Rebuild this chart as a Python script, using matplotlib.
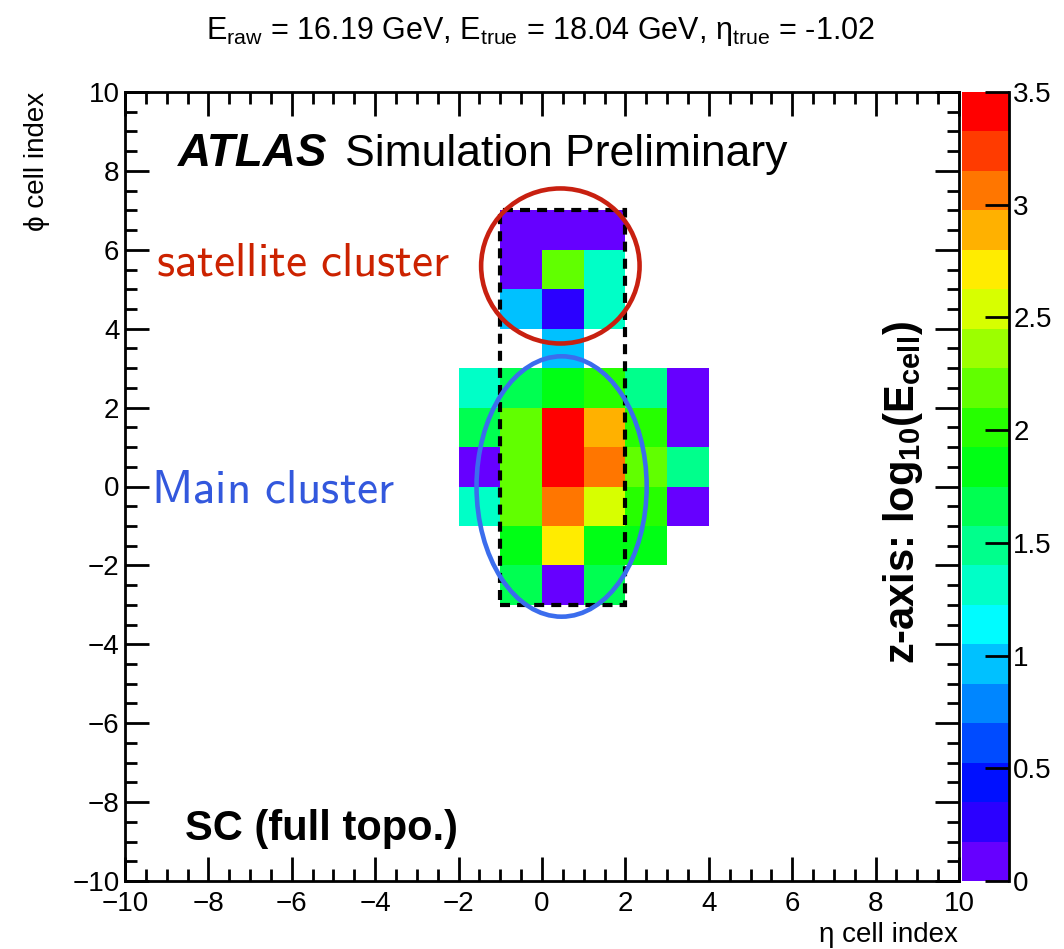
import numpy as np
import matplotlib
matplotlib.use('Agg')
import matplotlib.pyplot as plt
from matplotlib.colors import ListedColormap, BoundaryNorm, hsv_to_rgb
from matplotlib.patches import Ellipse, Rectangle
from matplotlib.ticker import MultipleLocator, FuncFormatter

plt.rcParams['font.family'] = ['Liberation Sans', 'DejaVu Sans']
plt.rcParams['mathtext.fontset'] = 'custom'
plt.rcParams['mathtext.rm'] = 'Liberation Sans'
plt.rcParams['mathtext.it'] = 'Liberation Sans:italic'
plt.rcParams['mathtext.bf'] = 'Liberation Sans:bold'

# ячейки: нижняя граница по eta, по phi и log10(E)
eta_idx = [-1, 0, 1,
           -1, 0, 1,
           -1, 0, 1,
           0,
           -2, -1, 0, 1, 2, 3,
           -2, -1, 0, 1, 2, 3,
           -2, -1, 0, 1, 2, 3,
           -2, -1, 0, 1, 2, 3,
           -1, 0, 1, 2,
           -1, 0, 1]
phi_idx = [6, 6, 6,
           5, 5, 5,
           4, 4, 4,
           3,
           2, 2, 2, 2, 2, 2,
           1, 1, 1, 1, 1, 1,
           0, 0, 0, 0, 0, 0,
           -1, -1, -1, -1, -1, -1,
           -2, -2, -2, -2,
           -3, -3, -3]
log_e = [0.10, 0.10, 0.10,
         0.10, 2.19, 1.31,
         0.96, 0.26, 1.31,
         0.96,
         1.31, 1.66, 1.84, 2.01, 1.49, 0.10,
         1.66, 2.19, 3.41, 2.89, 2.01, 0.10,
         0.10, 2.19, 3.41, 3.06, 2.19, 1.49,
         1.31, 2.19, 3.06, 2.54, 2.01, 0.10,
         1.84, 2.71, 1.84, 1.84,
         1.66, 0.10, 1.66]

z_ticks = [0, 0.5, 1, 1.5, 2, 2.5, 3, 3.5]
title = (r'E$_{\mathrm{raw}}$ = 16.19 GeV, E$_{\mathrm{true}}$ = 18.04 GeV, '
         r'η$_{\mathrm{true}}$ = -1.02')

# палитра как в ROOT: от фиолетового к красному, 20 уровней
n_lev = 20
hues = np.linspace(264, 0, n_lev) / 360
cmap = ListedColormap([hsv_to_rgb((h, 1, 1)) for h in hues])
norm = BoundaryNorm(np.linspace(0, 3.5, n_lev + 1), n_lev)

edges = np.arange(-10, 11)
grid = np.full((20, 20), np.nan)
for e, p, v in zip(eta_idx, phi_idx, log_e):
    grid[e + 10, p + 10] = v

fig = plt.figure(figsize=(10.64, 9.49), dpi=100)
ax = fig.add_axes([125 / 1064, 1 - 881 / 949, 834 / 1064, 789 / 949])
cax = fig.add_axes([962 / 1064, 1 - 881 / 949, 47 / 1064, 789 / 949])

mesh = ax.pcolormesh(edges, edges, np.ma.masked_invalid(grid.T), cmap=cmap, norm=norm)

ax.set_xlim(-10, 10)
ax.set_ylim(-10, 10)
for a in (ax.xaxis, ax.yaxis):
    a.set_major_locator(MultipleLocator(2))
    a.set_minor_locator(MultipleLocator(0.5))
ax.tick_params(which='both', direction='in', top=True, right=True, width=2)
ax.tick_params(which='major', length=17, labelsize=20)
ax.tick_params(which='minor', length=8.5)
ax.tick_params(axis='x', pad=7)
ax.tick_params(axis='y', pad=4)
for s in ax.spines.values():
    s.set_linewidth(2)

# рамка и эллипсы кластеров
ax.add_patch(Rectangle((-1, -3), 3, 10, fill=False, ec='black', lw=3,
                       ls=(0, (2.4, 1.7)), zorder=3))
ax.add_patch(Ellipse((0.44, 5.59), 3.8, 3.93, fill=False, ec='#c82010', lw=3.3, zorder=4))
ax.add_patch(Ellipse((0.47, 0.0), 4.08, 6.6, fill=False, ec='#3b6ded', lw=3.3, zorder=4))

ax.text(0.0636, 0.906, 'ATLAS', fontsize=33, fontweight='bold', style='italic',
        va='baseline', transform=ax.transAxes)
ax.text(0.264, 0.906, 'Simulation Preliminary', fontsize=32, va='baseline',
        transform=ax.transAxes)
ax.text(0.072, 0.052, 'SC (full topo.)', fontsize=30, fontweight='bold',
        va='baseline', transform=ax.transAxes)
ax.text(0.037, 0.768, r'$\mathsf{satellite\ cluster}$', math_fontfamily='cm',
        fontsize=34, color='#cc2200', va='baseline', transform=ax.transAxes)
ax.text(0.031, 0.480, r'$\mathsf{Main\ cluster}$', math_fontfamily='cm',
        fontsize=34, color='#3358dd', va='baseline', transform=ax.transAxes)

# шкала цвета
cb = fig.colorbar(mesh, cax=cax, ticks=z_ticks)
cb.outline.set_visible(False)
cax.spines['right'].set_visible(True)
cax.spines['right'].set_linewidth(2)
cax.minorticks_off()
cax.tick_params(direction='in', length=17, width=2, labelsize=20, pad=3)
cax.yaxis.set_major_formatter(FuncFormatter(lambda v, p: f'{v:g}'))

fig.text(540 / 1064, 1 - 32 / 949, title, ha='center', va='center', fontsize=22)
fig.text(958 / 1064, 1 - 935 / 949, 'η cell index', ha='right', va='center', fontsize=20)
fig.text(37 / 1064, 1 - 92 / 949, 'ϕ cell index', rotation=90, ha='center', va='top',
         fontsize=20)
fig.text(903 / 1064, 1 - 492 / 949, r'z-axis: log$_{\mathbf{10}}$(E$_{\mathbf{cell}}$)',
         rotation=90, ha='center', va='center', fontsize=30, fontweight='bold')

fig.savefig('out.png', dpi=100)
